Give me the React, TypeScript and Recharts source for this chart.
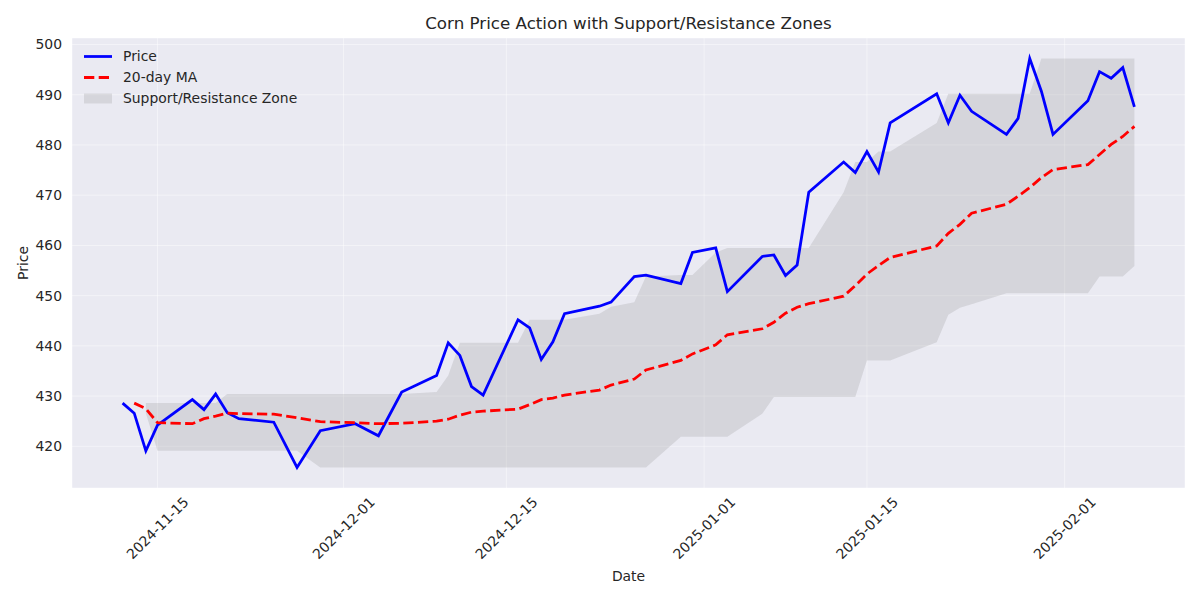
import React from 'react';
import { ComposedChart, Line, Area, XAxis, YAxis, CartesianGrid, Legend, Label } from 'recharts';

const dates = [
  '2024-11-12', '2024-11-13', '2024-11-14', '2024-11-15', '2024-11-18', '2024-11-19', '2024-11-20', '2024-11-21',
  '2024-11-22', '2024-11-25', '2024-11-27', '2024-11-29', '2024-12-02', '2024-12-04', '2024-12-06', '2024-12-09',
  '2024-12-10', '2024-12-11', '2024-12-12', '2024-12-13', '2024-12-16', '2024-12-17', '2024-12-18', '2024-12-19',
  '2024-12-20', '2024-12-23', '2024-12-24', '2024-12-26', '2024-12-27', '2024-12-30', '2024-12-31', '2025-01-02',
  '2025-01-03', '2025-01-06', '2025-01-07', '2025-01-08', '2025-01-09', '2025-01-10', '2025-01-13', '2025-01-14',
  '2025-01-15', '2025-01-16', '2025-01-17', '2025-01-21', '2025-01-22', '2025-01-23', '2025-01-24', '2025-01-27',
  '2025-01-28', '2025-01-29', '2025-01-30', '2025-01-31', '2025-02-03', '2025-02-04', '2025-02-05', '2025-02-06',
  '2025-02-07',
];

const price = [
  428.6, 426.6, 419.1, 424.2, 429.3, 427.3, 430.4, 426.7,
  425.5, 424.8, 415.8, 423.1, 424.5, 422.1, 430.8, 434.1,
  440.6, 438.1, 431.9, 430.2, 445.2, 443.6, 437.3, 440.8,
  446.4, 447.9, 448.7, 453.8, 454.1, 452.4, 458.6, 459.5,
  450.8, 457.8, 458.1, 454.0, 456.1, 470.6, 476.6, 474.5,
  478.7, 474.6, 484.4, 490.2, 484.4, 489.9, 486.7, 482.1,
  485.3, 497.2, 490.7, 482.1, 488.8, 494.6, 493.3, 495.4,
  487.6,
];

const ma20 = [
  null, 428.6, 427.5, 424.7, 424.5, 425.5, 426.0, 426.6,
  426.5, 426.4, 425.7, 424.9, 424.7, 424.5, 424.6, 425.0,
  425.4, 426.2, 426.8, 427.0, 427.4, 428.3, 429.3, 429.6,
  430.2, 431.2, 432.2, 433.4, 435.2, 437.1, 438.4, 440.2,
  442.2, 443.4, 444.7, 446.5, 447.7, 448.4, 449.9, 452.0,
  454.3, 456.0, 457.6, 459.9, 462.4, 464.2, 466.4, 468.2,
  469.8, 471.5, 473.5, 475.1, 476.1, 478.1, 480.1, 481.7,
  483.7,
];

const zoneUpper = [
  null, null, 428.6, 428.6, 428.6, 428.6, 428.6, 430.4,
  430.4, 430.4, 430.4, 430.4, 430.4, 430.4, 430.4, 430.8,
  434.1, 440.6, 440.6, 440.6, 440.6, 445.2, 445.2, 445.2,
  445.2, 446.4, 447.8, 448.7, 453.8, 454.1, 454.1, 458.6,
  459.5, 459.5, 459.5, 459.5, 459.5, 459.5, 470.6, 476.6,
  476.6, 478.7, 478.7, 484.4, 490.2, 490.2, 490.2, 490.2,
  490.2, 490.2, 497.2, 497.2, 497.2, 497.2, 497.2, 497.2,
  497.2,
];

const zoneLower = [
  null, null, 426.6, 419.1, 419.1, 419.1, 419.1, 419.1,
  419.1, 419.1, 419.1, 415.8, 415.8, 415.8, 415.8, 415.8,
  415.8, 415.8, 415.8, 415.8, 415.8, 415.8, 415.8, 415.8,
  415.8, 415.8, 415.8, 415.8, 415.8, 421.9, 421.9, 421.9,
  421.9, 426.5, 429.8, 429.8, 429.8, 429.8, 429.8, 429.8,
  437.1, 437.1, 437.1, 440.7, 446.2, 447.6, 448.3, 450.5,
  450.5, 450.5, 450.5, 450.5, 450.5, 453.8, 453.8, 453.8,
  455.9,
];

const xTickDates = ['2024-11-15', '2024-12-01', '2024-12-15', '2025-01-01', '2025-01-15', '2025-02-01'];
const yTicks = [420, 430, 440, 450, 460, 470, 480, 490, 500];
const yDomain = [411.7, 501.3];

const toTs = (d: string) => Date.parse(d + 'T00:00:00Z');

const data = dates.map((d, i) => ({
  t: toTs(d),
  price: price[i],
  ma: ma20[i],
  zone: zoneLower[i] == null ? null : [zoneLower[i], zoneUpper[i]],
}));

const first = toTs(dates[0]);
const last = toTs(dates[dates.length - 1]);
const pad = (last - first) * 0.05;
const xDomain = [first - pad, last + pad];
const xTicks = xTickDates.map(toTs);

const FONT = 'DejaVu Sans';
const TEXT = '#262626';
const LW = 2.78;
const DASH = '10.3 4.4';

const XTick = (props: any) => {
  const { x, y, payload } = props;
  const cy = y + 40;
  const idx = xTicks.indexOf(payload.value);
  const label = idx >= 0 ? xTickDates[idx] : '';
  return (
    <text
      x={x}
      y={cy}
      transform={`rotate(-45 ${x} ${cy})`}
      textAnchor="middle"
      dominantBaseline="central"
      fontFamily={FONT}
      fontSize={13.9}
      fill={TEXT}
    >
      {label}
    </text>
  );
};

const LegendRow = ({ kind, label }: { kind: string; label: string }) => (
  <div style={{ display: 'flex', alignItems: 'center', height: 21 }}>
    <svg width={28} height={21} style={{ display: 'block' }}>
      {kind === 'price' && <line x1={0} x2={28} y1={10.5} y2={10.5} stroke="#0000ff" strokeWidth={LW} />}
      {kind === 'ma' && (
        <line x1={0} x2={28} y1={10.5} y2={10.5} stroke="#ff0000" strokeWidth={LW} strokeDasharray={DASH} />
      )}
      {kind === 'zone' && <rect x={0} y={5.5} width={28} height={10} fill="#808080" fillOpacity={0.2} />}
    </svg>
    <span style={{ marginLeft: 11, whiteSpace: 'nowrap' }}>{label}</span>
  </div>
);

const LegendContent = () => (
  <div style={{ fontFamily: FONT, fontSize: 13.9, color: TEXT, lineHeight: '21px' }}>
    <LegendRow kind="price" label="Price" />
    <LegendRow kind="ma" label="20-day MA" />
    <LegendRow kind="zone" label="Support/Resistance Zone" />
  </div>
);

export default function App() {
  return (
    <div style={{ position: 'absolute', left: 0, top: 0, width: 1200, height: 600, background: '#ffffff' }}>
      <ComposedChart
        width={1200}
        height={600}
        data={data}
        margin={{ top: 38, right: 15, bottom: 0, left: 0 }}
      >
        <CartesianGrid stroke="#ffffff" strokeOpacity={0.45} strokeWidth={1} fill="#EAEAF2" fillOpacity={1} />
        <XAxis
          dataKey="t"
          type="number"
          scale="linear"
          domain={xDomain}
          ticks={xTicks}
          interval={0}
          allowDataOverflow
          height={112}
          axisLine={false}
          tickLine={false}
          tickSize={0}
          tickMargin={0}
          tick={<XTick />}
        >
          <Label
            content={() => (
              <text x={628.5} y={576} textAnchor="middle" dominantBaseline="central" fontFamily={FONT} fontSize={13.9} fill={TEXT}>
                Date
              </text>
            )}
          />
        </XAxis>
        <YAxis
          type="number"
          domain={yDomain}
          ticks={yTicks}
          interval={0}
          allowDataOverflow
          width={72}
          axisLine={false}
          tickLine={false}
          tickSize={0}
          tickMargin={10}
          tick={{ fontFamily: FONT, fontSize: 13.9, fill: TEXT }}
        >
          <Label
            content={() => (
              <text
                x={22.5}
                y={263}
                transform="rotate(-90 22.5 263)"
                textAnchor="middle"
                dominantBaseline="central"
                fontFamily={FONT}
                fontSize={13.9}
                fill={TEXT}
              >
                Price
              </text>
            )}
          />
        </YAxis>
        <Area
          dataKey="zone"
          type="linear"
          stroke="none"
          fill="#808080"
          fillOpacity={0.2}
          connectNulls={false}
          dot={false}
          activeDot={false}
          isAnimationActive={false}
        />
        <Line
          dataKey="price"
          type="linear"
          stroke="#0000ff"
          strokeWidth={LW}
          dot={false}
          activeDot={false}
          isAnimationActive={false}
        />
        <Line
          dataKey="ma"
          type="linear"
          stroke="#ff0000"
          strokeWidth={LW}
          strokeDasharray={DASH}
          dot={false}
          activeDot={false}
          connectNulls={false}
          isAnimationActive={false}
        />
        <Legend
          layout="vertical"
          align="center"
          verticalAlign="middle"
          content={<LegendContent />}
          wrapperStyle={{ position: 'absolute', left: 84, top: 45.5, width: 260, height: 63 }}
        />
      </ComposedChart>
      <svg
        width={1200}
        height={40}
        style={{ position: 'absolute', left: 0, top: 0, pointerEvents: 'none' }}
      >
        <text x={628.5} y={29} textAnchor="middle" fontFamily={FONT} fontSize={16.7} fill={TEXT}>
          Corn Price Action with Support/Resistance Zones
        </text>
      </svg>
    </div>
  );
}
